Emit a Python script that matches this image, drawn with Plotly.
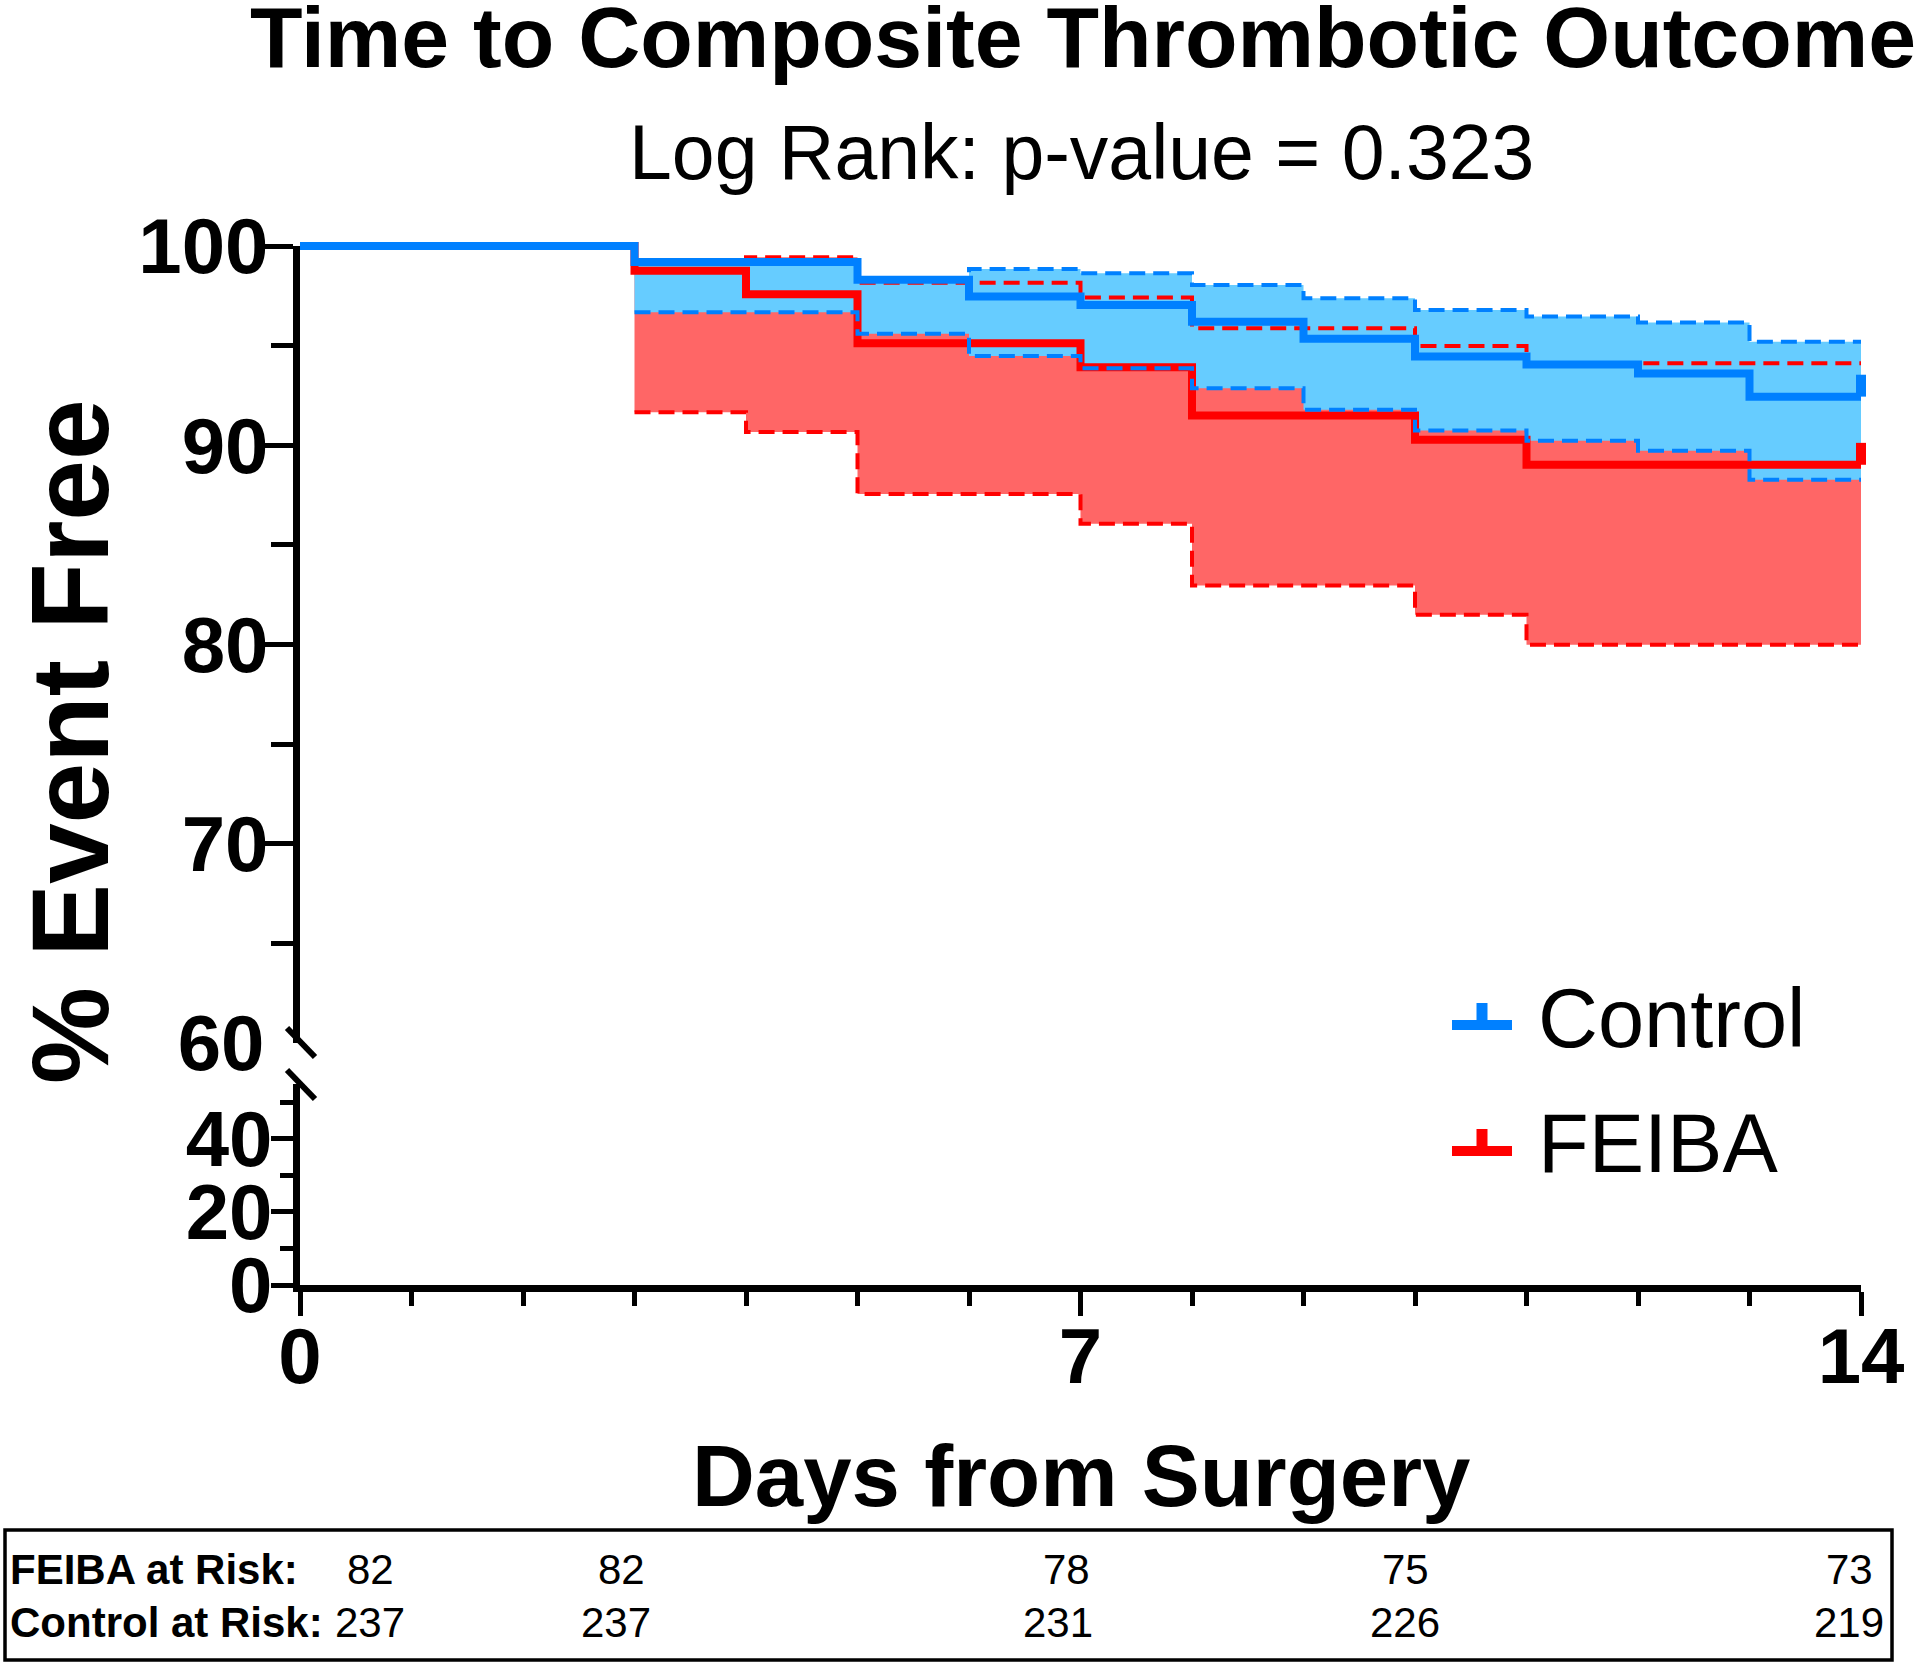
import plotly.graph_objects as go

# ---------------- data ----------------
days = [0, 3, 4, 5, 6, 7, 8, 9, 10, 11, 12, 13, 14]

control_surv  = [100, 99.20, 99.20, 98.30, 97.46, 97.04, 96.20, 95.34, 94.45, 94.05, 93.60, 92.44, 92.44]
control_upper = [100, 99.20, 99.20, 98.30, 98.85, 98.63, 98.04, 97.38, 96.79, 96.46, 96.16, 95.20, 95.20]
control_lower = [100, 96.67, 96.67, 95.59, 94.48, 93.86, 92.86, 91.78, 90.74, 90.22, 89.72, 88.27, 88.27]

feiba_surv  = [100, 98.76, 97.58, 95.12, 95.12, 93.92, 91.49, 91.49, 90.27, 89.02, 89.02, 89.02, 89.02]
feiba_upper = [100, 98.76, 99.43, 98.15, 98.15, 97.41, 95.87, 95.87, 94.98, 94.12, 94.12, 94.12, 94.12]
feiba_lower = [100, 91.66, 90.66, 87.55, 87.55, 86.06, 82.96, 82.96, 81.49, 79.99, 79.99, 79.99, 79.99]

x_ticks = [0, 7, 14]
y_upper_ticks = [70, 80, 90, 100]
y_upper_minor = [65, 75, 85, 95]
y_break_tick = [60]
y_lower_ticks = [0, 20, 40]
y_lower_minor = [10, 30, 50]

risk_labels = ["FEIBA at Risk:", "Control at Risk:"]
feiba_at_risk = [82, 82, 78, 75, 73]
control_at_risk = [237, 237, 231, 226, 219]

series_names = ["Control", "FEIBA"]

# ---------------- layout geometry (pixels) ----------------
W, H = 1920, 1668
FONT = "Liberation Sans, Arial, Helvetica, sans-serif"
BLUE = "rgb(0,128,255)"
RED = "rgb(255,0,0)"
BLUE_FILL = "rgb(102,204,255)"
RED_FILL = "rgb(255,102,102)"

X_LEFT, X_RIGHT = 300, 1861          # day 0 .. day 14
Y_TOP, Y_BOT = 246, 1043             # 100 .. 60
YL_BOT, YL_TOP = 1285, 1084          # 0 .. 55 (lower segment)
X_RANGE = [0, 14]
YU_RANGE = [60, 100]
YL_RANGE = [0, 55]
PAD = 24


def fx(p):
    return p / W


def fy(p):
    return 1 - p / H


ppx = (X_RIGHT - X_LEFT) / (X_RANGE[1] - X_RANGE[0])
ppy = (Y_BOT - Y_TOP) / (YU_RANGE[1] - YU_RANGE[0])

fig = go.Figure()

# empty traces so that the visible axis frames get drawn
for ya in ("y", "y2", "y3"):
    fig.add_trace(go.Scatter(x=[None], y=[None], xaxis="x", yaxis=ya, mode="lines",
                             showlegend=False, hoverinfo="skip"))

common = dict(xaxis="x2", yaxis="y4", line_shape="hv", showlegend=False, hoverinfo="skip")

# confidence bands (red below, blue on top)
fig.add_trace(go.Scatter(x=days[1:], y=feiba_lower[1:], mode="lines", line=dict(width=0, color=RED_FILL), **common))
fig.add_trace(go.Scatter(x=days[1:], y=feiba_upper[1:], mode="lines", line=dict(width=0, color=RED_FILL),
                         fill="tonexty", fillcolor=RED_FILL, **common))
fig.add_trace(go.Scatter(x=days[1:], y=control_lower[1:], mode="lines", line=dict(width=0, color=BLUE_FILL), **common))
fig.add_trace(go.Scatter(x=days[1:], y=control_upper[1:], mode="lines", line=dict(width=0, color=BLUE_FILL),
                         fill="tonexty", fillcolor=BLUE_FILL, **common))

DASH = "16px,8px"
# FEIBA lines
for arr in (feiba_upper, feiba_lower):
    fig.add_trace(go.Scatter(x=days[1:], y=arr[1:], mode="lines",
                             line=dict(width=4, color=RED, dash=DASH), **common))
fig.add_trace(go.Scatter(x=days, y=feiba_surv, mode="lines", line=dict(width=8, color=RED), **common))
# Control lines
for arr in (control_upper, control_lower):
    fig.add_trace(go.Scatter(x=days[1:], y=arr[1:], mode="lines",
                             line=dict(width=4, color=BLUE, dash=DASH), **common))
fig.add_trace(go.Scatter(x=days, y=control_surv, mode="lines", line=dict(width=8, color=BLUE), **common))

# censor ticks at end of follow-up
CENSOR_H = 1.1
for surv, col in ((feiba_surv, RED), (control_surv, BLUE)):
    fig.add_trace(go.Scatter(x=[days[-1], days[-1]], y=[surv[-1], surv[-1] + CENSOR_H], mode="lines",
                             line=dict(width=10, color=col), xaxis="x2", yaxis="y4",
                             showlegend=False, hoverinfo="skip"))

tickfont = dict(family=FONT, size=78, color="black", weight="bold")
AX_LW = 7
TW = 5

fig.update_layout(
    width=W, height=H,
    margin=dict(l=0, r=0, t=0, b=0, pad=0, autoexpand=False),
    paper_bgcolor="white", plot_bgcolor="rgba(0,0,0,0)",
    showlegend=False,
    xaxis=dict(domain=[fx(X_LEFT), fx(X_RIGHT)], range=X_RANGE, anchor="y2",
               showline=True, linewidth=AX_LW, linecolor="black", showgrid=False, zeroline=False,
               tickmode="array", tickvals=x_ticks, ticks="outside", ticklen=24, tickwidth=TW,
               tickcolor="black", tickfont=tickfont, fixedrange=True, ticklabelstandoff=-27,
               minor=dict(tickmode="array", tickvals=[d for d in range(15) if d % 7],
                          ticks="outside", ticklen=14, tickwidth=TW, tickcolor="black", showgrid=False)),
    yaxis=dict(domain=[fy(Y_BOT), fy(Y_TOP)], range=YU_RANGE, anchor="x",
               showline=True, linewidth=AX_LW, linecolor="black", showgrid=False, zeroline=False,
               tickmode="array", tickvals=y_upper_ticks, ticks="outside", ticklen=37, tickwidth=TW,
               tickcolor="black", tickfont=tickfont, fixedrange=True, ticklabelstandoff=-28,
               minor=dict(tickmode="array", tickvals=y_upper_minor, ticks="outside", ticklen=22,
                          tickwidth=TW, tickcolor="black", showgrid=False)),
    yaxis3=dict(overlaying="y", range=YU_RANGE, anchor="x", side="left",
                showline=False, showgrid=False, zeroline=False, fixedrange=True,
                tickmode="array", tickvals=y_break_tick, ticks="outside", ticklen=37, tickwidth=TW,
                tickcolor="rgba(0,0,0,0)", tickfont=tickfont, ticklabelstandoff=-18),
    yaxis2=dict(domain=[fy(YL_BOT), fy(YL_TOP)], range=YL_RANGE, anchor="x",
                showline=True, linewidth=AX_LW, linecolor="black", showgrid=False, zeroline=False,
                tickmode="array", tickvals=y_lower_ticks, ticks="outside", ticklen=22, tickwidth=TW,
                tickcolor="black", tickfont=tickfont, fixedrange=True, ticklabelstandoff=-17,
                minor=dict(tickmode="array", tickvals=y_lower_minor, ticks="outside", ticklen=13,
                           tickwidth=TW, tickcolor="black", showgrid=False)),
    xaxis2=dict(domain=[fx(X_LEFT - PAD), fx(X_RIGHT + PAD)],
                range=[X_RANGE[0] - PAD / ppx, X_RANGE[1] + PAD / ppx],
                anchor="y4", visible=False, fixedrange=True),
    yaxis4=dict(domain=[fy(Y_BOT + PAD), fy(Y_TOP - PAD)],
                range=[YU_RANGE[0] - PAD / ppy, YU_RANGE[1] + PAD / ppy],
                anchor="x2", visible=False, fixedrange=True),
)

shapes = []
# axis break marks
for y0 in (1028, 1070):
    shapes.append(dict(type="line", xref="paper", yref="paper",
                       x0=fx(287), y0=fy(y0), x1=fx(315), y1=fy(y0 + 29),
                       line=dict(color="black", width=6)))
# legend symbols
legend_y = [1025, 1151]
for name, col, yc in zip(series_names, (BLUE, RED), legend_y):
    shapes.append(dict(type="line", xref="paper", yref="paper", x0=fx(1452), x1=fx(1512),
                       y0=fy(yc), y1=fy(yc), line=dict(color=col, width=10)))
    shapes.append(dict(type="line", xref="paper", yref="paper", x0=fx(1482), x1=fx(1482),
                       y0=fy(yc), y1=fy(yc - 22), line=dict(color=col, width=11)))
# risk table box
shapes.append(dict(type="rect", xref="paper", yref="paper", x0=fx(5), x1=fx(1892),
                   y0=fy(1530), y1=fy(1660), line=dict(color="black", width=3.5)))
fig.update_layout(shapes=shapes)

ann = []


def text(t, x, y, size, bold=False, xanchor="center", angle=0):
    ann.append(dict(text=t, x=fx(x), y=fy(y), xref="paper", yref="paper", showarrow=False,
                    xanchor=xanchor, yanchor="middle", textangle=angle,
                    font=dict(family=FONT, size=size, color="black", weight="bold" if bold else "normal")))


text("Time to Composite Thrombotic Outcome", 1083, 37, 86, bold=True)
text("Log Rank: p-value = 0.323", 1081, 152, 77)
text("% Event Free", 70, 742, 109, bold=True, angle=-90)
text("Days from Surgery", 1081, 1475, 87, bold=True)
for name, yc in zip(series_names, (1018, 1143)):
    text(name, 1536, yc, 83, xanchor="left")

row_y = [1569, 1622]
row_cols = [[370, 621, 1066, 1405, 1849], [370, 616, 1058, 1405, 1849]]
for lab, yc, vals, cols in zip(risk_labels, row_y, (feiba_at_risk, control_at_risk), row_cols):
    text(lab, 8, yc, 42, bold=True, xanchor="left")
    for xc, v in zip(cols, vals):
        text(str(v), xc, yc, 42)

fig.update_layout(annotations=ann)

fig.write_html("out.html", config={"displayModeBar": False},
               post_script="document.body.style.margin='0';document.body.style.overflow='hidden';")
